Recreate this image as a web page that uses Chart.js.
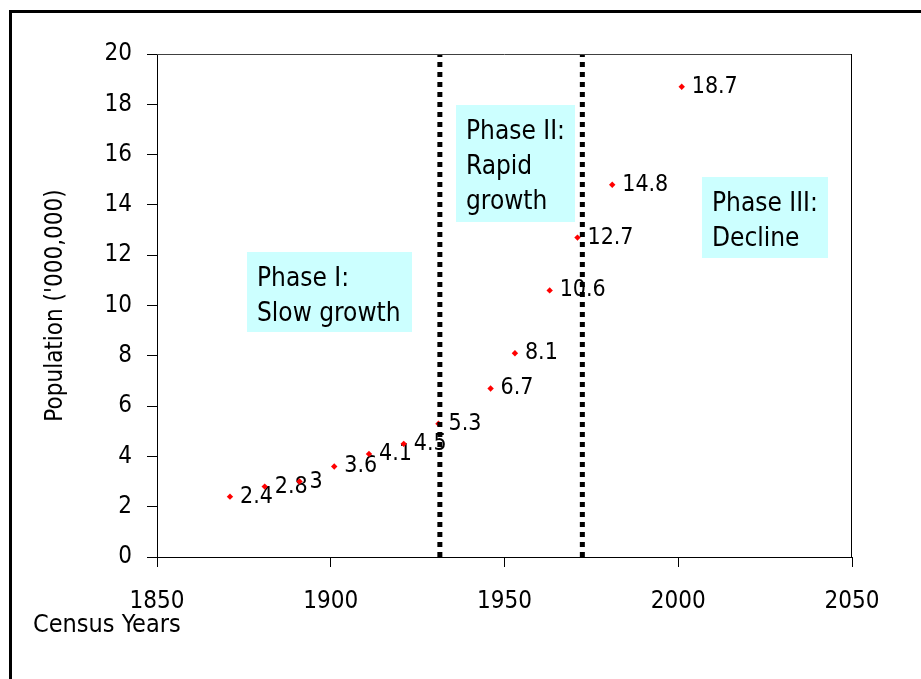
<!DOCTYPE html>
<html>
<head>
<meta charset="utf-8">
<script src="https://cdn.jsdelivr.net/npm/chart.js@4.4.1/dist/chart.umd.min.js"></script>
<style>
  html, body { margin: 0; padding: 0; background: #fff; overflow: hidden; }
  #wrap { position: relative; width: 921px; height: 679px; }
  #frame { position: absolute; left: 9px; top: 10px; width: 1000px; height: 1000px; border-left: 3px solid #000; border-top: 3px solid #000; }
  #chart { position: absolute; left: 0; top: 0; }
</style>
</head>
<body>
<div id="wrap">
  <div id="frame"></div>
  <canvas id="chart" width="921" height="679"></canvas>
</div>
<script>
// Data
var years = [1871, 1881, 1891, 1901, 1911, 1921, 1931, 1946, 1953, 1963, 1971, 1981, 2001];
var population = [2.4, 2.8, 3, 3.6, 4.1, 4.5, 5.3, 6.7, 8.1, 10.6, 12.7, 14.8, 18.7];
var valueLabels = ['2.4', '2.8', '3', '3.6', '4.1', '4.5', '5.3', '6.7', '8.1', '10.6', '12.7', '14.8', '18.7'];
var phaseBreaks = [1931.4, 1972.4];
var phaseTexts = [['Phase I:', 'Slow growth'], ['Phase II:', 'Rapid', 'growth'], ['Phase III:', 'Decline']];

var FONT = "'DejaVu Sans Condensed', 'Liberation Sans Narrow', 'Arial Narrow', sans-serif";
Chart.defaults.font.family = FONT;
Chart.defaults.color = '#000';

// text boxes sit where they were dropped on the original chart
var phaseBoxes = [
  { left: 247, top: 252, width: 165, height: 80 },
  { left: 456, top: 105, width: 119, height: 117 },
  { left: 702, top: 177, width: 126, height: 81 }
];

var annotations = {
  id: 'annotations',
  beforeDatasetsDraw: function(chart) {
    var ctx = chart.ctx;
    // phase boxes
    ctx.save();
    ctx.font = '26px ' + FONT;
    ctx.textBaseline = 'alphabetic';
    ctx.textAlign = 'left';
    phaseBoxes.forEach(function(b, i) {
      ctx.fillStyle = '#ccffff';
      ctx.fillRect(b.left, b.top, b.width, b.height);
      ctx.fillStyle = '#000';
      phaseTexts[i].forEach(function(line, j) {
        ctx.fillText(line, b.left + 10, b.top + 34 + j * 35);
      });
    });
    ctx.restore();

    // value labels next to each point
    var meta = chart.getDatasetMeta(2);
    ctx.save();
    ctx.font = '23px ' + FONT;
    ctx.fillStyle = '#000';
    ctx.textBaseline = 'middle';
    ctx.textAlign = 'left';
    meta.data.forEach(function(pt, i) {
      ctx.fillText(valueLabels[i], pt.x + 10, pt.y);
    });
    ctx.restore();
  },
  afterDraw: function(chart) {
    var a = chart.chartArea, ctx = chart.ctx;
    ctx.save();
    ctx.lineWidth = 1;
    ctx.strokeStyle = '#404040';
    ctx.beginPath();
    ctx.moveTo(a.left, a.top + 0.5);
    ctx.lineTo(a.right, a.top + 0.5);
    ctx.stroke();
    ctx.strokeStyle = '#000';
    ctx.beginPath();
    ctx.moveTo(a.right - 0.5, a.top);
    ctx.lineTo(a.right - 0.5, a.bottom);
    ctx.stroke();
    ctx.restore();
  }
};

function breakLine(x) {
  return {
    data: [{ x: x, y: 0 }, { x: x, y: 20 }],
    showLine: true,
    borderColor: '#000',
    borderWidth: 5,
    borderDash: [5, 5],
    pointRadius: 0,
    order: 1
  };
}

new Chart(document.getElementById('chart'), {
  type: 'scatter',
  data: {
    datasets: [
      breakLine(phaseBreaks[0]),
      breakLine(phaseBreaks[1]),
      {
        data: years.map(function(y, i) { return { x: y, y: population[i] }; }),
        pointStyle: 'rectRot',
        pointRadius: 3.2,
        backgroundColor: '#ff0000',
        borderWidth: 0,
        order: 2
      }
    ]
  },
  options: {
    responsive: false,
    animation: false,
    events: [],
    layout: { padding: { top: 54, right: 69, left: 33, bottom: 0 } },
    plugins: {
      legend: { display: false },
      tooltip: { enabled: false },
      title: {
        display: true, text: 'Census Years', position: 'bottom', align: 'start',
        color: '#000', font: { size: 25, weight: 'normal' }, padding: { top: -7, bottom: 39 }
      }
    },
    scales: {
      x: {
        type: 'linear', min: 1850, max: 2050,
        ticks: { stepSize: 50, font: { size: 24 }, padding: 20, maxRotation: 0, callback: function(v) { return String(v); } },
        grid: { drawOnChartArea: false, drawTicks: true, tickLength: 10, color: '#000' },
        border: { display: true, color: '#000', width: 1 },
        afterFit: function(s) { s.height = 60; }
      },
      y: {
        min: 0, max: 20,
        ticks: { stepSize: 2, font: { size: 24 }, padding: 15 },
        grid: { drawOnChartArea: false, drawTicks: true, tickLength: 10, color: '#000' },
        border: { display: true, color: '#000', width: 1 },
        title: { display: true, text: "Population ('000,000)", font: { size: 24, weight: 'normal' }, padding: { top: 8, bottom: 0 } },
        afterFit: function(s) { s.width = 124; }
      }
    }
  },
  plugins: [annotations]
});
</script>
</body>
</html>
